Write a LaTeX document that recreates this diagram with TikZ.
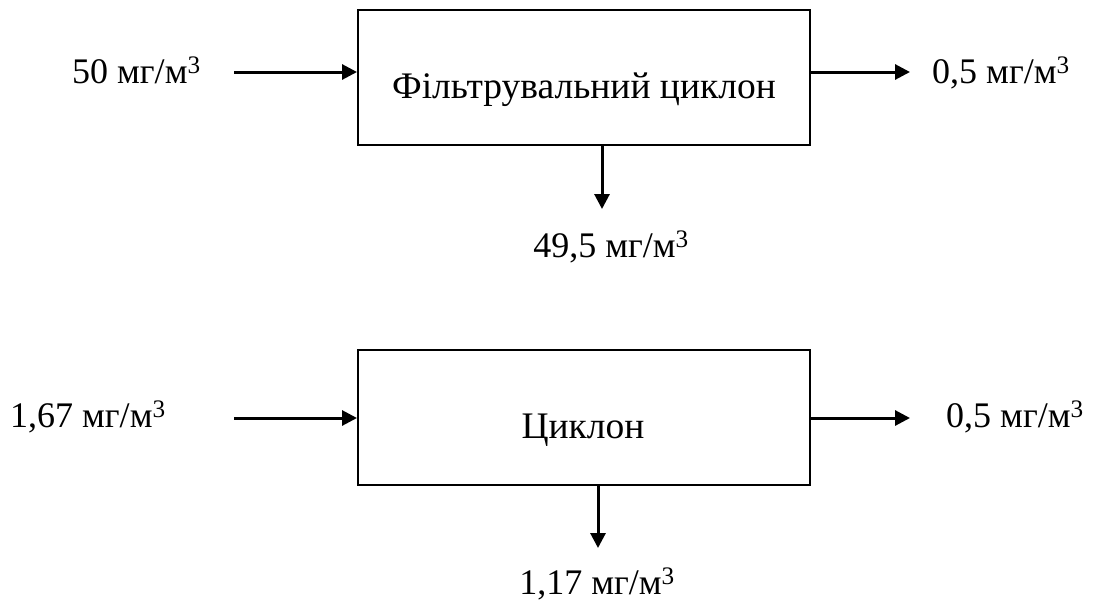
\documentclass[tikz,border=0pt]{standalone}
\usepackage{fontspec}
\setmainfont{Liberation Serif}
\usetikzlibrary{arrows.meta}
\begin{document}
\begin{tikzpicture}[x=1pt,y=-1pt,
  blk/.style={draw, line width=2pt, minimum width=452pt, minimum height=135pt, inner sep=0pt},
  arr/.style={line width=3pt, -{Triangle[length=15pt,width=15pt]}},
  lbl/.style={inner sep=0pt, font=\fontsize{36}{42}\selectfont},
  btxt/.style={inner sep=0pt, font=\fontsize{37.5}{44}\selectfont}]
\useasboundingbox (0,0) rectangle (1094,600);
% top
\node[blk] (b1) at (584,77.5) {};
\node[btxt, anchor=base] (t1) at (584,98) {Фільтрувальний циклон};
\coordinate (i1) at (234,72);
\coordinate (o1) at (910,72);
\coordinate (d1) at (602,209);
\node[lbl, anchor=base west] (l1) at (72,83) {50 мг/м\textsuperscript{3}};
\node[lbl, anchor=base west] (r1) at (932,83) {0,5 мг/м\textsuperscript{3}};
\node[lbl, anchor=base] (s1) at (611,257) {49,5 мг/м\textsuperscript{3}};
\draw[arr] (i1) -- (i1 -| b1.west);
\draw[arr] (o1 -| b1.east) -- (o1);
\draw[arr] (d1 |- b1.south) -- (d1);
% bottom
\node[blk] (b2) at (584,417) {};
\node[btxt, anchor=base] (t2) at (583,438) {Циклон};
\coordinate (i2) at (234,418);
\coordinate (o2) at (910,418);
\coordinate (d2) at (598,548);
\node[lbl, anchor=base west] (l2) at (10,427) {1,67 мг/м\textsuperscript{3}};
\node[lbl, anchor=base west] (r2) at (946,427) {0,5 мг/м\textsuperscript{3}};
\node[lbl, anchor=base] (s2) at (597,594) {1,17 мг/м\textsuperscript{3}};
\draw[arr] (i2) -- (i2 -| b2.west);
\draw[arr] (o2 -| b2.east) -- (o2);
\draw[arr] (d2 |- b2.south) -- (d2);
\end{tikzpicture}
\end{document}
